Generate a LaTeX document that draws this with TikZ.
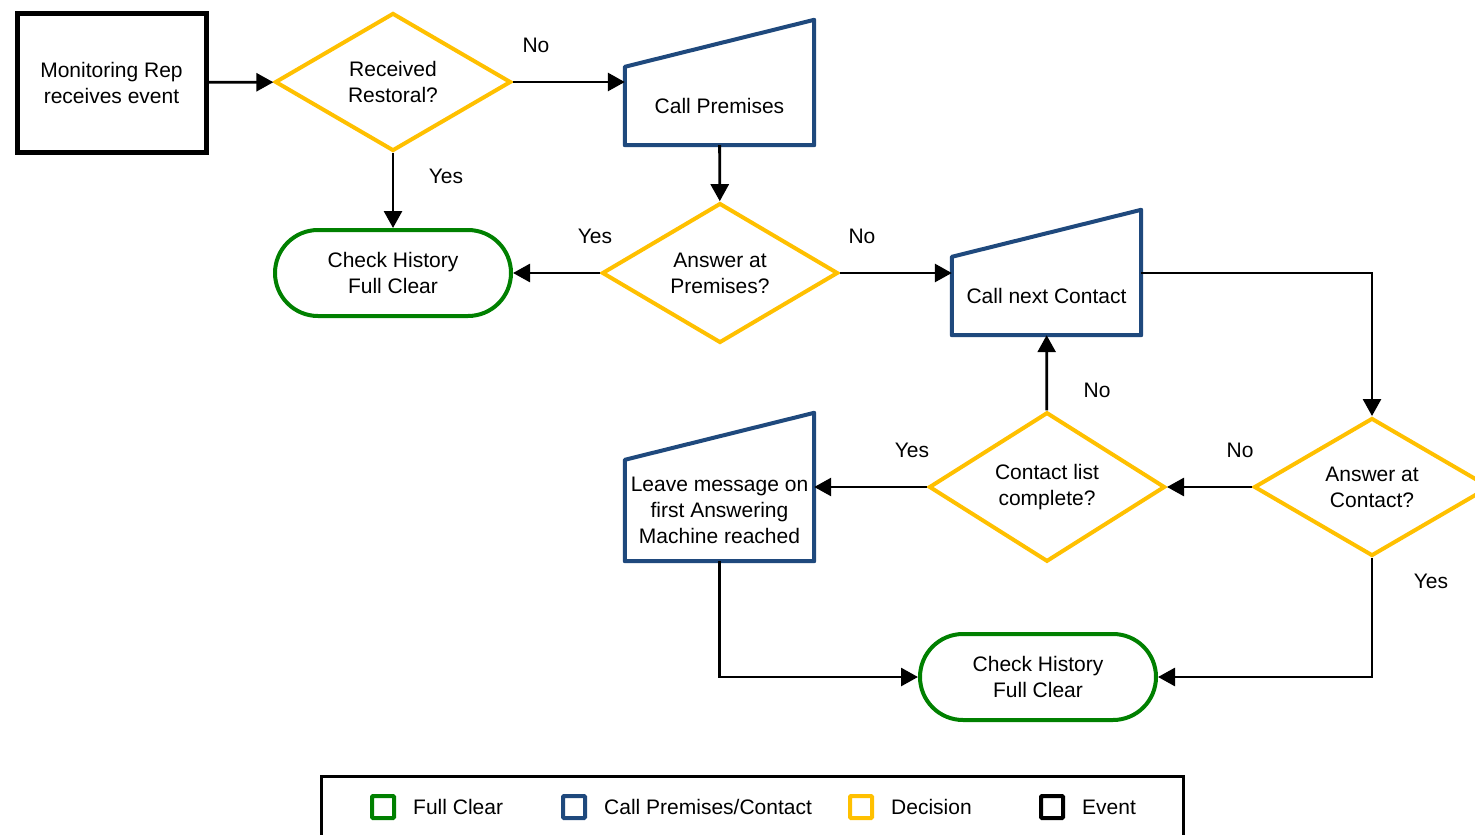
\documentclass[tikz,border=0pt]{standalone}
\usepackage{fontspec}
\setmainfont{Liberation Sans}
\usetikzlibrary{arrows.meta,positioning,shapes.geometric}
\definecolor{clearGreen}{RGB}{0,128,0}
\definecolor{callBlue}{RGB}{31,73,125}
\definecolor{decYellow}{RGB}{255,192,0}

\begin{document}
\begin{tikzpicture}[x=1pt, y=-1pt, >={Triangle[length=17pt,width=18pt]},
    every node/.style={font=\fontsize{21}{26}\selectfont, align=center},
    eventbox/.style={draw=black, line width=5pt, minimum width=189pt, minimum height=139pt, inner sep=0pt},
    decision/.style={diamond, draw=decYellow, line width=4pt, minimum width=236pt, minimum height=138pt, inner sep=0pt},
    fullclear/.style={draw=clearGreen, line width=4pt, rounded corners=43pt, minimum width=236pt, minimum height=86pt, inner sep=0pt},
    callbox/.style={minimum width=189pt, inner sep=0pt},
    calledge/.style={draw=callBlue, line width=4pt, line join=round},
    flow/.style={->, line width=2.8pt},
    lbl/.style={inner sep=0pt},
    keybox/.style={draw, line width=4pt, minimum size=22pt, inner sep=0pt, rounded corners=1pt}]
  \useasboundingbox (0,0) rectangle (1475,835);
  \clip (0,0) rectangle (1475,835);

  % --- nodes ---
  \node[eventbox] (ev) at (111.5,82.5) {Monitoring Rep\\receives event};
  \node[decision] (rr) at (393,82) {Received\\Restoral?};
  \node[callbox, minimum height=78pt] (cp) at (719.5,106) {Call Premises};
  \node[fullclear] (ch1) at (393,273) {Check History\\Full Clear};
  \node[decision] (ap) at (720,273) {Answer at\\Premises?};
  \node[callbox, minimum height=78pt] (cnc) at (1046.5,296) {Call next Contact};
  \node[decision] (ac) at (1372,487) {Answer at\\Contact?};
  \node[decision] (clc) at (1047,487) {Contact list\\complete?};
  \node[callbox, minimum height=101pt] (lm) at (719.5,510.5) {Leave message on\\first Answering\\Machine reached};
  \node[fullclear] (ch2) at (1038,677) {Check History\\Full Clear};

  % --- manual input outlines ---
  \draw[calledge] (cp.south west) -- (cp.south east) -- ([yshift=47pt]cp.north east) -- (cp.north west) -- cycle;
  \draw[calledge] (cnc.south west) -- (cnc.south east) -- ([yshift=47pt]cnc.north east) -- (cnc.north west) -- cycle;
  \draw[calledge] (lm.south west) -- (lm.south east) -- ([yshift=47pt]lm.north east) -- (lm.north west) -- cycle;

  % --- connectors ---
  \draw[flow] (ev) -- (rr);
  \draw[flow] (rr) -- (rr -| cp.west);
  \draw[flow] (rr) -- (ch1);
  \draw[flow] (cp) -- (ap);
  \draw[flow] (ap) -- (ch1);
  \draw[flow] (ap) -- (ap -| cnc.west);
  \draw[flow] (ap -| cnc.east) -| (ac);
  \draw[flow] (ac) -- (clc);
  \draw[flow] (clc) -- (cnc);
  \draw[flow] (clc) -- (clc -| lm.east);
  \draw[flow] (lm) |- (ch2);
  \draw[flow] (ac) |- (ch2);

  % --- labels ---
  \node[lbl] (noRR) at (536,45) {No};
  \node[lbl] (yesRR) at (446,176) {Yes};
  \node[lbl] (yesAP) at (595,236) {Yes};
  \node[lbl] (noAP) at (862,236) {No};
  \node[lbl] (noCLC) at (1097,390) {No};
  \node[lbl] (yesCLC) at (912,450) {Yes};
  \node[lbl] (noAC) at (1240,450) {No};
  \node[lbl] (yesAC) at (1431,581) {Yes};

  % --- legend ---
  \node[draw, line width=3pt, minimum width=862pt, minimum height=80pt, inner sep=0pt] (legend) at (752,816) {};
  \node[keybox, draw=clearGreen] (kFull) at (383,807) {};
  \node[lbl, right=17pt of kFull] (tFull) {Full Clear};
  \node[keybox, draw=callBlue] (kCall) at (574,807) {};
  \node[lbl, right=17pt of kCall] (tCall) {Call Premises/Contact};
  \node[keybox, draw=decYellow] (kDec) at (861,807) {};
  \node[lbl, right=17pt of kDec] (tDec) {Decision};
  \node[keybox, draw=black] (kEv) at (1052,807) {};
  \node[lbl, right=17pt of kEv] (tEv) {Event};
\end{tikzpicture}
\end{document}
